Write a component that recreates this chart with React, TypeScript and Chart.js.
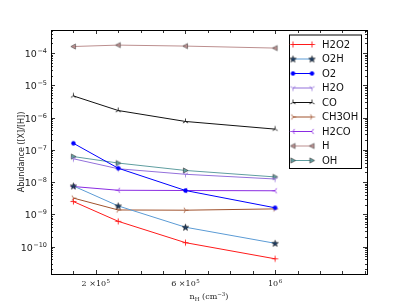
import React, { useEffect, useRef } from "react";
import { Chart, registerables } from "chart.js";

Chart.register(...registerables);

// ---------- data ----------
const densities = [1e5, 3e5, 6e5, 1e6];
const H2O2 = [2.5e-9, 6.1e-10, 1.33e-10, 4.2e-11];
const O2H = [7.6e-9, 1.83e-9, 4.0e-10, 1.27e-10];
const O2 = [1.6e-7, 2.7e-8, 5.5e-9, 1.6e-9];
const H2O = [5.3e-8, 2.6e-8, 1.75e-8, 1.25e-8];
const CO = [4.7e-6, 1.66e-6, 7.6e-7, 4.4e-7];
const CH3OH = [3.2e-9, 1.37e-9, 1.35e-9, 1.48e-9];
const H2CO = [7.3e-9, 5.6e-9, 5.5e-9, 5.4e-9];
const H = [1.6e-4, 1.77e-4, 1.65e-4, 1.43e-4];
const OH = [6.2e-8, 3.9e-8, 2.3e-8, 1.45e-8];

const X_MIN = 0;
const X_MAX = 1.41e6;
const Y_MIN = 1.42e-11;
const Y_MAX = 5.2e-4;

const xMajorTicks = [2e5, 6e5, 1e6];
const xMajorLabels = [["2 \u00d710", "5"], ["6 \u00d710", "5"], ["10", "6"]];
const xMinorStep = 1e5;
const yDecades = [-4, -5, -6, -7, -8, -9, -10];

// ---------- markers ----------
function mk(size: number, draw: (c: CanvasRenderingContext2D, s: number) => void) {
  const cv = document.createElement("canvas");
  cv.width = size;
  cv.height = size;
  const c = cv.getContext("2d")!;
  c.translate(size / 2, size / 2);
  draw(c, size);
  return cv;
}
function plus(color: string) {
  return mk(9, (c) => {
    c.strokeStyle = color;
    c.lineWidth = 0.9;
    c.beginPath();
    c.moveTo(-3, 0); c.lineTo(3, 0);
    c.moveTo(0, -3); c.lineTo(0, 3);
    c.stroke();
  });
}
function star(fill: string) {
  return mk(9, (c) => {
    c.beginPath();
    for (let i = 0; i < 10; i++) {
      const r = i % 2 === 0 ? 3.4 : 1.45;
      const a = -Math.PI / 2 + (i * Math.PI) / 5;
      const px = r * Math.cos(a), py = r * Math.sin(a) + 0.3;
      if (i === 0) c.moveTo(px, py); else c.lineTo(px, py);
    }
    c.closePath();
    c.fillStyle = fill;
    c.fill();
    c.strokeStyle = "#000";
    c.lineWidth = 0.5;
    c.stroke();
  });
}
function dot(fill: string) {
  return mk(7, (c) => {
    c.beginPath();
    c.arc(0, 0, 2.2, 0, Math.PI * 2);
    c.fillStyle = fill;
    c.fill();
  });
}
function tri(color: string, dir: "down" | "up" | "left" | "right") {
  const rot = { down: 0, up: Math.PI, left: Math.PI / 2, right: -Math.PI / 2 }[dir];
  return mk(9, (c) => {
    c.rotate(rot);
    c.strokeStyle = color;
    c.lineWidth = 0.8;
    c.beginPath();
    const r = 3;
    c.moveTo(0, 0); c.lineTo(0, r);
    c.moveTo(0, 0); c.lineTo(-0.866 * r, -0.5 * r);
    c.moveTo(0, 0); c.lineTo(0.866 * r, -0.5 * r);
    c.stroke();
  });
}
function filledTri(fill: string, edge: string, dir: "left" | "right") {
  return mk(9, (c) => {
    const s = dir === "left" ? -1 : 1;
    c.beginPath();
    c.moveTo(2.6 * s, 0);
    c.lineTo(-2.1 * s, -2.6);
    c.lineTo(-2.1 * s, 2.6);
    c.closePath();
    c.fillStyle = fill;
    c.fill();
    c.strokeStyle = edge;
    c.lineWidth = 0.6;
    c.stroke();
  });
}

function sup(ctx: CanvasRenderingContext2D, base: string, exp: string, x: number, y: number, align: "right" | "center", font: string, bs: number, es: number) {
  ctx.font = `${bs}px ${font}`;
  const wb = ctx.measureText(base).width;
  ctx.font = `${es}px ${font}`;
  const we = ctx.measureText(exp).width;
  const total = wb + we + 0.5;
  const x0 = align === "right" ? x - total : x - total / 2;
  ctx.textAlign = "left";
  ctx.textBaseline = "alphabetic";
  ctx.font = `${bs}px ${font}`;
  ctx.fillText(base, x0, y);
  ctx.font = `${es}px ${font}`;
  ctx.fillText(exp, x0 + wb + 0.5, y - bs * 0.42);
}

export default function App() {
  const ref = useRef<HTMLCanvasElement | null>(null);
  useEffect(() => {
    if (!ref.current) return;
    const series = [
      { label: "H2O2", data: H2O2, color: "#ff1a1a", marker: plus("#ff1a1a") },
      { label: "O2H", data: O2H, color: "#5b9bd5", marker: star("#1f3f66") },
      { label: "O2", data: O2, color: "#0000ff", marker: dot("#0000ff") },
      { label: "H2O", data: H2O, color: "#9370db", marker: tri("#9370db", "down") },
      { label: "CO", data: CO, color: "#111111", marker: tri("#111111", "up") },
      { label: "CH3OH", data: CH3OH, color: "#a0522d", marker: tri("#a0522d", "right") },
      { label: "H2CO", data: H2CO, color: "#8a2be2", marker: tri("#8a2be2", "left") },
      { label: "H", data: H, color: "#bc8f8f", marker: filledTri("#bc8f8f", "#444", "left") },
      { label: "OH", data: OH, color: "#5f9ea0", marker: filledTri("#5f9ea0", "#333", "right") },
    ];

    const decor = {
      id: "decor",
      afterDraw(chart: any) {
        const ctx: CanvasRenderingContext2D = chart.ctx;
        const a = chart.chartArea;
        const xs = chart.scales.x;
        const ys = chart.scales.y;
        ctx.save();
        // frame
        ctx.strokeStyle = "#000";
        ctx.lineWidth = 1;
        ctx.strokeRect(Math.round(a.left) + 0.5, Math.round(a.top) + 0.5, Math.round(a.right - a.left), Math.round(a.bottom - a.top));
        // x ticks
        ctx.lineWidth = 0.8;
        ctx.beginPath();
        for (let v = xMinorStep; v < X_MAX; v += xMinorStep) {
          const px = Math.round(xs.getPixelForValue(v)) + 0.5;
          const major = xMajorTicks.some((m) => Math.abs(m - v) < 1);
          const L = major ? 4 : 3;
          ctx.moveTo(px, a.bottom); ctx.lineTo(px, a.bottom - L);
          ctx.moveTo(px, a.top); ctx.lineTo(px, a.top + L);
        }
        // y ticks
        for (let e = -12; e <= -3; e++) {
          for (let m = 1; m <= 9; m++) {
            const v = m * Math.pow(10, e);
            if (v < Y_MIN || v > Y_MAX) continue;
            const py = Math.round(ys.getPixelForValue(v)) + 0.5;
            const L = m === 1 ? 4 : 2;
            ctx.moveTo(a.left, py); ctx.lineTo(a.left + L, py);
            ctx.moveTo(a.right, py); ctx.lineTo(a.right - L, py);
          }
        }
        ctx.stroke();
        // y tick labels
        ctx.fillStyle = "#222";
        yDecades.forEach((e) => {
          const py = ys.getPixelForValue(Math.pow(10, e));
          sup(ctx, "10", "\u2212" + Math.abs(e), a.left - 4, py + 4, "right", "'DejaVu Sans', sans-serif", 9.5, 6.5);
        });
        // x tick labels
        xMajorTicks.forEach((v, i) => {
          const px = xs.getPixelForValue(v);
          sup(ctx, xMajorLabels[i][0], xMajorLabels[i][1], px, a.bottom + 12, "center", "'DejaVu Serif', serif", 8, 5.5);
        });
        // x title: n_H (cm^-3)
        {
          const f = "'DejaVu Serif', serif";
          const cx = (a.left + a.right) / 2;
          const by = a.bottom + 25;
          ctx.font = `8px ${f}`;
          const w1 = ctx.measureText("n").width;
          ctx.font = `5.5px ${f}`;
          const w2 = ctx.measureText("H").width;
          ctx.font = `8px ${f}`;
          const w3 = ctx.measureText(" (cm").width;
          ctx.font = `5.5px ${f}`;
          const w4 = ctx.measureText("\u22123").width;
          ctx.font = `8px ${f}`;
          const w5 = ctx.measureText(")").width;
          let x = cx - (w1 + w2 + w3 + w4 + w5) / 2;
          ctx.textAlign = "left";
          ctx.font = `8px ${f}`; ctx.fillText("n", x, by); x += w1;
          ctx.font = `5.5px ${f}`; ctx.fillText("H", x, by + 1.5); x += w2;
          ctx.font = `8px ${f}`; ctx.fillText(" (cm", x, by); x += w3;
          ctx.font = `5.5px ${f}`; ctx.fillText("\u22123", x, by - 3.5); x += w4;
          ctx.font = `8px ${f}`; ctx.fillText(")", x, by);
        }
        // y title
        ctx.save();
        ctx.translate(24, (a.top + a.bottom) / 2);
        ctx.rotate(-Math.PI / 2);
        ctx.font = "8px 'DejaVu Sans', sans-serif";
        ctx.textAlign = "center";
        ctx.fillStyle = "#222";
        ctx.fillText("Abundance ([X]/[H])", 0, 0);
        ctx.restore();
        // legend
        const lx = 289, ly = 34.5, lw = 72, lh = 133.5;
        ctx.fillStyle = "#fff";
        ctx.fillRect(lx, ly, lw, lh);
        ctx.strokeStyle = "#000";
        ctx.lineWidth = 1;
        ctx.strokeRect(lx + 0.5, ly + 0.5, lw, lh);
        series.forEach((s, i) => {
          const yy = ly + 10 + i * 14.5;
          ctx.strokeStyle = s.color;
          ctx.lineWidth = 1;
          ctx.beginPath();
          ctx.moveTo(lx + 4, yy); ctx.lineTo(lx + 23, yy);
          ctx.stroke();
          const m = s.marker;
          ctx.drawImage(m, lx + 4 - m.width / 2, yy - m.height / 2);
          ctx.drawImage(m, lx + 23 - m.width / 2, yy - m.height / 2);
          ctx.fillStyle = "#111";
          ctx.font = "10px 'DejaVu Sans', sans-serif";
          ctx.textAlign = "left";
          ctx.textBaseline = "middle";
          ctx.fillText(s.label, lx + 33, yy + 0.5);
          ctx.textBaseline = "alphabetic";
        });
        ctx.restore();
      },
    };

    const chart = new Chart(ref.current, {
      type: "line",
      data: {
        datasets: series.map((s) => ({
          label: s.label,
          data: densities.map((d, i) => ({ x: d, y: s.data[i] })),
          borderColor: s.color,
          backgroundColor: s.color,
          borderWidth: 1,
          pointStyle: s.marker as any,
          pointRadius: 3,
          tension: 0,
          fill: false,
        })),
      },
      options: {
        animation: false,
        responsive: false,
        maintainAspectRatio: false,
        layout: { padding: { left: 51, right: 40, top: 30, bottom: 31 } },
        plugins: { legend: { display: false }, tooltip: { enabled: false } },
        scales: {
          x: {
            type: "linear",
            min: X_MIN,
            max: X_MAX,
            ticks: { display: false },
            grid: { display: false, drawTicks: false },
            border: { display: false },
          },
          y: {
            type: "logarithmic",
            min: Y_MIN,
            max: Y_MAX,
            ticks: { display: false },
            grid: { display: false, drawTicks: false },
            border: { display: false },
          },
        },
      },
      plugins: [decor],
    });
    return () => chart.destroy();
  }, []);

  return (
    <div style={{ position: "fixed", left: 0, top: 0, width: 407, height: 305, background: "#fff" }}>
      <canvas ref={ref} width={407} height={305} style={{ display: "block", width: 407, height: 305 }} />
    </div>
  );
}
